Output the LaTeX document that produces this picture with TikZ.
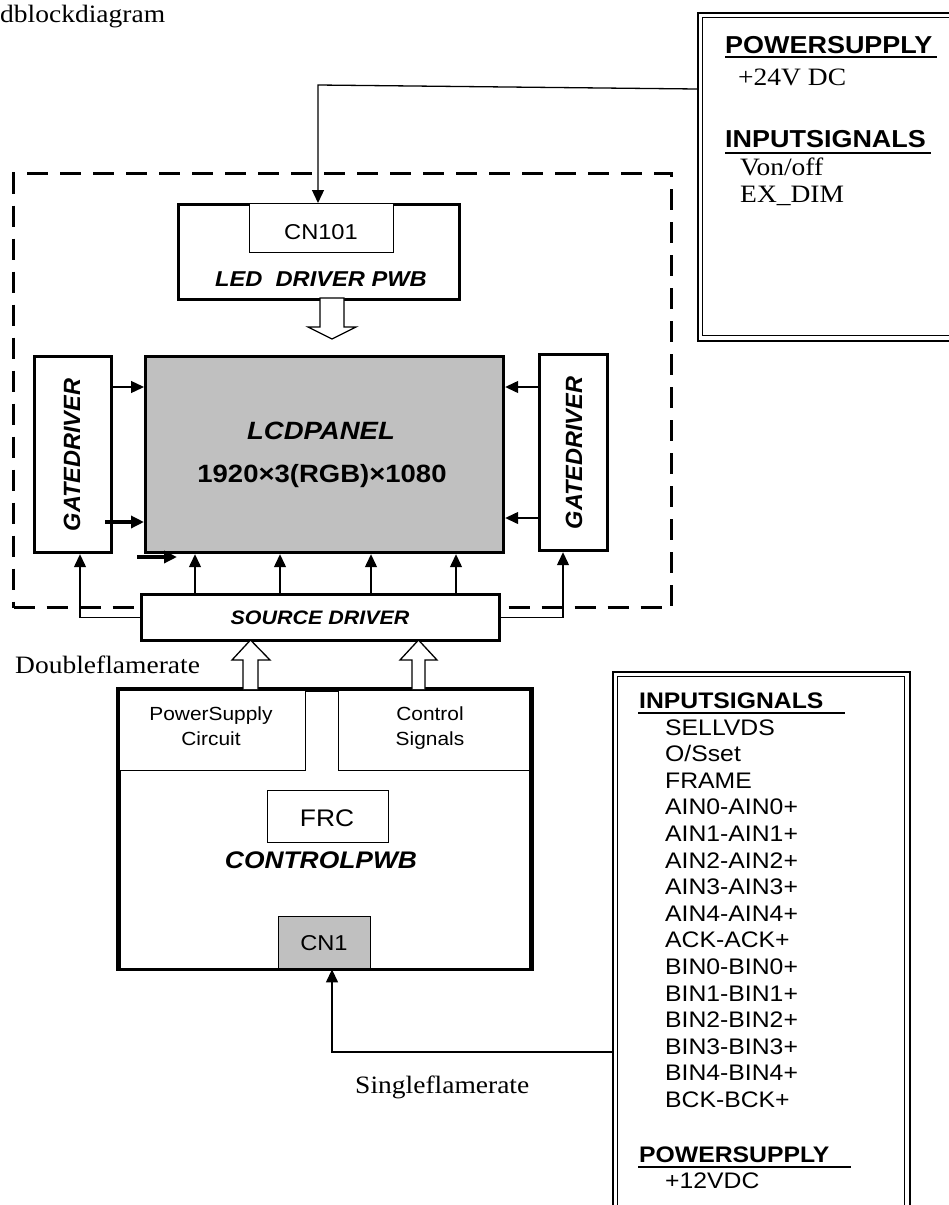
\documentclass[tikz,border=0pt]{standalone}
\usepackage{fontspec}
\setmainfont{Liberation Sans}
\newfontfamily\tnr{Liberation Serif}
\usetikzlibrary{arrows.meta}
\newcommand{\fsz}[1]{\fontsize{#1}{#1}\selectfont}
\definecolor{panelgray}{RGB}{192,192,192}
\begin{document}
\begin{tikzpicture}[x=1pt,y=-1pt,
  thickbox/.style={draw, line width=3.2pt, inner sep=0, anchor=north west, fill=white},
  thinbox/.style={draw, line width=1.4pt, inner sep=0, anchor=north west, fill=white},
  arr/.style={line width=1.3pt, -{Triangle[length=13pt,width=12pt]}},
  fatarr/.style={line width=3.5pt, -{Triangle[length=13pt,width=12pt]}},
  hollow/.style={line width=1.3pt, fill=white, draw},
  lbl/.style={inner sep=0, anchor=base west, xscale=1.1},
  clbl/.style={inner sep=0, anchor=base, xscale=1.1},
  uline/.style={line width=1.8pt},
]
\useasboundingbox (0,0) rectangle (949,1205);

% dashed frame
\node[draw, line width=3pt, dash pattern=on 21pt off 12pt, inner sep=0, anchor=north west,
      minimum width=658, minimum height=434] (frame) at (12,172) {};

% title
\node[lbl, font=\tnr\fsz{25}] (title) at (0,22) {dblockdiagram};

% top right box
\node[draw, line width=2.4pt, inner sep=0, anchor=north west, minimum width=280, minimum height=328] (psbox) at (697,12) {};
\node[draw, line width=1.4pt, inner sep=0, anchor=north west, minimum width=270, minimum height=318] (psboxin) at (702,17) {};
\node[lbl, font=\bfseries\fsz{24.5}] (ps1h) at (725,53) {POWERSUPPLY};
\draw[uline] (725,57) -- (937,57);
\node[lbl, font=\tnr\fsz{25}] (ps1v) at (738,85) {+24V DC};
\node[lbl, font=\bfseries\fsz{24.5}] (in1h) at (725,147) {INPUTSIGNALS};
\draw[uline] (725,153) -- (931,153);
\node[lbl, font=\tnr\fsz{25}] (in1a) at (740,175) {Von/off};
\node[lbl, font=\tnr\fsz{25}] (in1b) at (740,202) {EX\_DIM};

% LED driver
\node[thickbox, minimum width=281, minimum height=95] (led) at (177,203) {};
\node[thinbox, minimum width=144, minimum height=49] (cn101) at (249,203) {};
\node[clbl, font=\fsz{21.5}] (cn101t) at (321,239) {CN101};
\node[clbl, font=\bfseries\itshape\fsz{21.5}] (ledt) at (321,286) {LED\ \ DRIVER PWB};

% power connector into CN101
\coordinate (pin) at (697,89);
\coordinate (bend1) at (318,85);
\draw[arr] (pin) -- (bend1) -- (bend1 |- cn101.north);

% hollow arrow down
\draw[hollow] (320,298) -- (344,298) -- (344,327) -- (356,327) -- (332,339) -- (308,327) -- (320,327) -- cycle;

% LCD panel
\node[draw, line width=3.2pt, fill=panelgray, inner sep=0, anchor=north west, minimum width=358, minimum height=196] (panel) at (144,355) {};
\node[clbl, font=\bfseries\itshape\fsz{25}] (panelt1) at (321,439) {LCDPANEL};
\node[clbl, font=\bfseries\fsz{25}] (panelt2) at (322,482) {1920×3(RGB)×1080};

% gate drivers
\node[thickbox, minimum width=77, minimum height=196] (gl) at (33,355) {};
\node[inner sep=0, rotate=90, font=\bfseries\itshape\fsz{23.5}] (glt) at (72,455) {GATEDRIVER};
\node[thickbox, minimum width=68, minimum height=196] (gr) at (538,353) {};
\node[inner sep=0, rotate=90, font=\bfseries\itshape\fsz{23.5}] (grt) at (574,453) {GATEDRIVER};

\coordinate (ya) at (0,387);
\coordinate (yb) at (0,522);
\coordinate (yc) at (0,518);
\draw[arr] (gl.east |- ya) -- (panel.west |- ya);
\draw[fatarr] (105,522) -- (panel.west |- yb);
\draw[arr] (gr.west |- ya) -- (panel.east |- ya);
\draw[arr] (gr.west |- yc) -- (panel.east |- yc);
\coordinate (fa1) at (137,557);
\coordinate (fa2) at (177,557);
\draw[fatarr] (fa1) -- (fa2);

% source driver
\node[thickbox, minimum width=358, minimum height=46] (src) at (140,593) {};
\node[clbl, font=\bfseries\itshape\fsz{19.5}] (srct) at (320,624) {SOURCE DRIVER};

\foreach \xx in {195,280,371,456}{
  \coordinate (sx) at (\xx,0);
  \draw[arr] (src.north -| sx) -- (panel.south -| sx);
}
\coordinate (gxl) at (80,0);
\coordinate (gxr) at (563,0);
\draw[arr] (src.west) -- (src.west -| gxl) -- (gl.south -| gxl);
\draw[arr] (src.east) -- (src.east -| gxr) -- (gr.south -| gxr);

\node[lbl, font=\tnr\fsz{25}] (dbl) at (15,673) {Doubleflamerate};

% control PWB
\node[thickbox, minimum width=411, minimum height=279] (ctrl) at (118,689) {};
\node[thinbox, minimum width=187, minimum height=81] (psc) at (118,689) {};
\node[thinbox, minimum width=191, minimum height=81] (csig) at (338,689) {};
\draw[line width=3.2pt, line cap=rect] (ctrl.north west) -- (ctrl.north east);
\draw[line width=3.2pt] (ctrl.north west) -- (ctrl.south west);
\draw[line width=3.2pt] (ctrl.north east) -- (ctrl.south east);
\node[clbl, font=\fsz{19}] (psct1) at (211,720) {PowerSupply};
\node[clbl, font=\fsz{19}] (psct2) at (211,745) {Circuit};
\node[clbl, font=\fsz{19}] (csigt1) at (430,720) {Control};
\node[clbl, font=\fsz{19}] (csigt2) at (430,745) {Signals};
\node[thinbox, minimum width=121, minimum height=52] (frc) at (267,790) {};
\node[clbl, font=\fsz{24}] (frct) at (327,826) {FRC};
\node[clbl, font=\bfseries\itshape\fsz{24}] (ctrlt) at (321,868) {CONTROLPWB};
\node[draw, line width=1.4pt, fill=panelgray, inner sep=0, anchor=north west, minimum width=92, minimum height=52] (cn1) at (278,916) {};
\node[clbl, font=\fsz{21.5}] (cn1t) at (324,950) {CN1};

% hollow arrows up
\draw[hollow] (243,689) -- (243,660) -- (232,660) -- (250.5,640) -- (270,660) -- (258,660) -- (258,689);
\draw[hollow] (412,689) -- (412,660) -- (400,660) -- (418.5,640) -- (437,660) -- (425,660) -- (425,689);

% bottom right box
\node[draw, line width=2.4pt, inner sep=0, anchor=north west, minimum width=297, minimum height=560] (sigbox) at (612,671) {};
\node[draw, line width=1.4pt, inner sep=0, anchor=north west, minimum width=287, minimum height=550] (sigboxin) at (617,676) {};
\node[lbl, font=\bfseries\fsz{22.5}] (in2h) at (639,708) {INPUTSIGNALS};
\draw[uline] (638,713) -- (845,713);
\foreach \txt [count=\i from 0] in {SELLVDS,O/Sset,FRAME,AIN0-AIN0+,AIN1-AIN1+,AIN2-AIN2+,AIN3-AIN3+,AIN4-AIN4+,ACK-ACK+,BIN0-BIN0+,BIN1-BIN1+,BIN2-BIN2+,BIN3-BIN3+,BIN4-BIN4+,BCK-BCK+}{
  \node[lbl, font=\fsz{22.5}] (sig\i) at (665,735+26.6*\i) {\txt};
}
\node[lbl, font=\bfseries\fsz{22.5}] (ps2h) at (639,1162) {POWERSUPPLY};
\draw[uline] (638,1167) -- (851,1167);
\node[lbl, font=\fsz{22.5}] (ps2v) at (665,1188) {+12VDC};

% input into CN1
\coordinate (sin) at (612,1052);
\coordinate (bend2) at (332,1052);
\draw[arr] (sin) -- (bend2) -- (bend2 |- cn1.south);
\node[lbl, font=\tnr\fsz{25}] (sgl) at (355,1093) {Singleflamerate};
\end{tikzpicture}
\end{document}
